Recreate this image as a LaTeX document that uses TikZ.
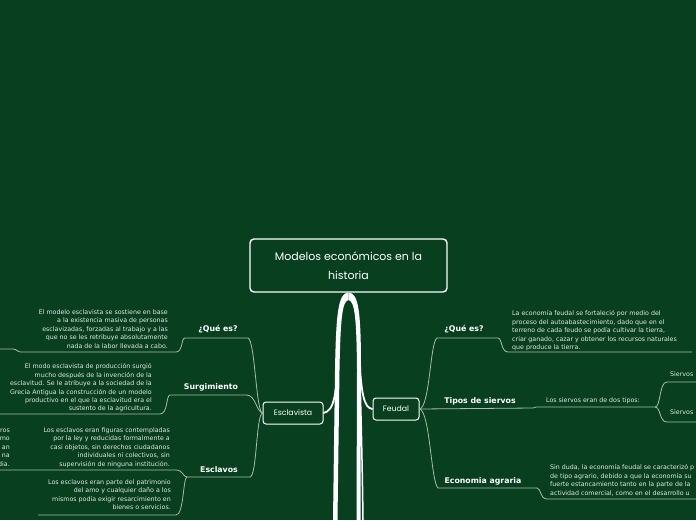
\documentclass[tikz,border=0pt]{standalone}
\usepackage{fontspec}
\setmainfont{DejaVu Sans}
\newfontfamily\handfont{Poppins}
\usetikzlibrary{positioning}
\definecolor{mapbg}{HTML}{073F1F}
\definecolor{leaftext}{HTML}{E3EAE5}
\definecolor{twigcol}{HTML}{A8BCAE}
\tikzset{
x=1pt, y=-1pt, % one unit is one pixel of the map, y grows downwards
rootbox/.style={draw=white, line width=1.4pt, rounded corners=4pt, fill=mapbg, text=white, align=center,
  font=\handfont\fontsize{11}{19}\selectfont, minimum width=197pt, minimum height=53pt}, % central topic
topicbox/.style={draw=white, line width=1pt, rounded corners=3pt, fill=mapbg, text=white,
  font=\handfont\fontsize{7.8}{9}\selectfont, minimum height=22pt}, % main topics
branchlbl/.style={text=white, font=\bfseries\fontsize{7.8}{9}\selectfont, inner sep=0pt}, % sub topics
leafleft/.style={text=leaftext, font=\fontsize{6.3}{8.45}\selectfont, align=right, inner sep=0pt, anchor=north east},
leafright/.style={text=leaftext, font=\fontsize{6.3}{8.45}\selectfont, align=left, inner sep=0pt, anchor=north west},
twig/.style={draw=twigcol, line width=0.8pt}, % thin connectors
}
\begin{document}
\begin{tikzpicture}
\useasboundingbox (0,0) rectangle (696,520);
\fill[mapbg] (0,0) rectangle (696,520);
\clip (0,0) rectangle (696,520);

% topics
\node[rootbox] (root) at (348.5,265.5) {Modelos económicos en la\\historia};
\node[topicbox, minimum width=60pt] (escl) at (293,413) {Esclavista};
\node[topicbox, minimum width=46pt] (feud) at (396,409) {Feudal};

% left side
\node[branchlbl] (lq) at (218,329) {¿Qué es?};
\node[branchlbl] (ls) at (211,387) {Surgimiento};
\node[branchlbl] (le) at (219,470) {Esclavos};
\node[leafleft] (t1) at (168,309.5) {El modelo esclavista se sostiene en base\\a la existencia masiva de personas\\esclavizadas, forzadas al trabajo y a las\\que no se les retribuye absolutamente\\nada de la labor llevada a cabo.};
\node[leafleft] (t2) at (152,363.5) {El modo esclavista de producción surgió\\mucho después de la invención de la\\esclavitud. Se le atribuye a la sociedad de la\\Grecia Antigua la construcción de un modelo\\productivo en el que la esclavitud era el\\sustento de la agricultura.};
\node[leafleft] (t3) at (170,427.5) {Los esclavos eran figuras contempladas\\por la ley y reducidas formalmente a\\casi objetos, sin derechos ciudadanos\\individuales ni colectivos, sin\\supervisión de ninguna institución.};
\node[leafleft] (t4) at (171,479.5) {Los esclavos eran parte del patrimonio\\del amo y cualquier daño a los\\mismos podía exigir resarcimiento en\\bienes o servicios.};
\node[leafleft] (t5) at (10,428.5) {ros\\mo\\an\\na\\dia.};

% right side
\node[branchlbl] (rq) at (464,329) {¿Qué es?};
\node[branchlbl] (rt) at (480,401) {Tipos de siervos};
\node[branchlbl] (re) at (483,481) {Economia agraria};
\node[leafright] (r1) at (512,310.5) {La economía feudal se fortaleció por medio del\\proceso del autoabastecimiento, dado que en el\\terreno de cada feudo se podía cultivar la tierra,\\criar ganado, cazar y obtener los recursos naturales\\que produce la tierra.};
\node[text=leaftext, font=\fontsize{6.3}{8}\selectfont, inner sep=0pt] (rt2) at (593,401) {Los siervos eran de dos tipos:};
\node[leafright] (s1) at (670,371.5) {Siervos};
\node[leafright, below=33pt of s1.south west, anchor=north west] (s2) {Siervos};
\node[leafright] (r3) at (550,464.5) {Sin duda, la economía feudal se caracterizó p\\de tipo agrario, debido a que la economía su\\fuerte estancamiento tanto en la parte de la\\actividad comercial, como en el desarrollo u};

% ends of the underlines
\coordinate (lq-e) at (248,338); \coordinate (lq-w) at (185,338); \coordinate (t1-end) at (0,349);
\coordinate (ls-e) at (247,395); \coordinate (ls-w) at (170,395); \coordinate (t2-end) at (0,414);
\coordinate (le-e) at (250,477); \coordinate (le-w) at (187,477);
\coordinate (t3-end) at (0,470); \coordinate (t4-end) at (38,515);
\coordinate (rq-w) at (437,338); \coordinate (rq-e) at (498,338); \coordinate (r1-end) at (692,352);
\coordinate (rt-e) at (533,408); \coordinate (rt2-w) at (536,407); \coordinate (rt2-e) at (655,407);
\coordinate (s1-end) at (696,382); \coordinate (s2-end) at (696,422);
\coordinate (re-w) at (438,488); \coordinate (re-e) at (537,488); \coordinate (r3-end) at (696,499);

% trunk from the central topic
\fill[white] (root.south) .. controls (338,292) and (336,315) .. (335,370) -- (333,520) -- (337.5,520)
  -- (339.5,370) .. controls (340.5,320) and (342,301) .. (348.5,300) -- cycle;
\fill[white] (root.south) .. controls (359,292) and (361,315) .. (361,370) -- (360.5,520) -- (356.5,520)
  -- (357,370) .. controls (356.5,320) and (355,301) .. (348.5,300) -- cycle;
\draw[white, line width=1.5pt] (360,380) .. controls (361.5,430) and (362.5,480) .. (363,520);
\draw[white, line width=1.8pt] (338,350) .. controls (337,395) and (334,411) .. (escl.east);
\draw[white, line width=1.8pt] (359,350) .. controls (361,395) and (364,408) .. (feud.west);

% thin connectors, left
\draw[twig] (escl.west) .. controls (256,412) and (255,340) .. (lq-e) -- (lq-w)
  .. controls (181,338) and (183,352) .. (176,352) -- (21,352) .. controls (17,352) and (17,349) .. (13,349) -- (t1-end);
\draw[twig] (escl.west) .. controls (256,411) and (256,396) .. (ls-e) -- (ls-w)
  .. controls (166,395) and (168,414) .. (160,414) -- (t2-end);
\draw[twig] (escl.west) .. controls (256,415) and (257,476) .. (le-e) -- (le-w);
\draw[twig] (le-w) .. controls (183,477) and (183,470) .. (176,470) -- (t3-end);
\draw[twig] (le-w) .. controls (183,477) and (184,515) .. (176,515) -- (t4-end);

% thin connectors, right
\draw[twig] (feud.east) .. controls (430,407) and (430,342) .. (rq-w) -- (rq-e)
  .. controls (502,338) and (501,352) .. (508,352) -- (r1-end);
\draw[twig] (feud.east) -- (rt-e) -- (rt2-w) -- (rt2-e) .. controls (661,407) and (659,382) .. (667,382) -- (s1-end);
\draw[twig] (rt2-e) .. controls (661,407) and (659,422) .. (667,422) -- (s2-end);
\draw[twig] (feud.east) .. controls (430,411) and (431,482) .. (re-w) -- (re-e)
  .. controls (541,488) and (540,499) .. (547,499) -- (r3-end);
\end{tikzpicture}
\end{document}
